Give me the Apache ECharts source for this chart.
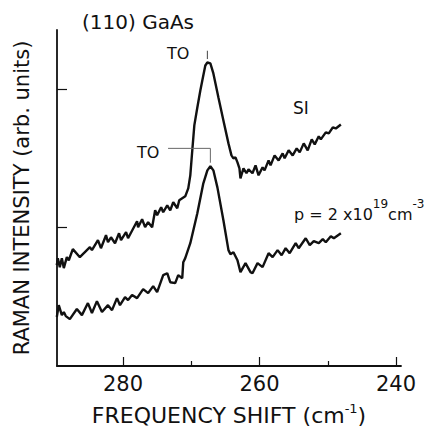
<!DOCTYPE html>
<html>
<head>
<meta charset="utf-8">
<script src="https://cdn.jsdelivr.net/npm/echarts@6/dist/echarts.min.js"></script>
<style>
  html, body { margin: 0; padding: 0; background: #fff; }
  #chart { width: 430px; height: 433px; }
</style>
</head>
<body>
<div id="chart"></div>
<script>
// semi-insulating sample (upper trace)
const siShift = [289.7, 289.55, 289.26, 288.96, 288.67, 288.23, 287.94, 287.35, 286.32, 284.85, 284.55, 283.67, 283.23, 282.49, 282.2, 281.76, 281.17, 280.58, 280.29, 279.55, 279.26, 277.94, 277.79, 277.2, 276.76, 276.32, 275.73, 275.29, 275.0, 274.41, 274.11, 273.52, 273.08, 272.64, 272.05, 271.76, 271.32, 270.88, 270.44, 270.14, 269.85, 269.55, 269.11, 268.67, 268.38, 267.94, 267.64, 267.2, 266.76, 266.02, 265.29, 264.55, 264.11, 263.82, 263.52, 263.23, 262.94, 262.79, 262.35, 261.91, 261.61, 261.03, 260.58, 260.14, 259.55, 259.26, 258.67, 258.38, 257.79, 257.2, 256.61, 256.32, 255.73, 255.14, 254.55, 254.11, 253.52, 252.94, 252.35, 251.91, 251.32, 251.02, 250.29, 249.85, 249.26, 248.82, 248.08]
const siIntensity = [0.729, 0.78, 0.715, 0.78, 0.708, 0.787, 0.765, 0.845, 0.787, 0.859, 0.838, 0.91, 0.852, 0.946, 0.895, 0.931, 0.888, 0.96, 0.91, 0.968, 0.924, 1.047, 1.004, 1.061, 1.004, 1.04, 1.004, 1.126, 1.09, 1.148, 1.112, 1.162, 1.126, 1.184, 1.141, 1.199, 1.213, 1.227, 1.285, 1.379, 1.56, 1.74, 1.87, 1.993, 2.065, 2.173, 2.195, 2.188, 2.116, 1.942, 1.776, 1.61, 1.523, 1.502, 1.509, 1.473, 1.43, 1.357, 1.43, 1.394, 1.422, 1.394, 1.451, 1.379, 1.437, 1.415, 1.487, 1.451, 1.523, 1.487, 1.538, 1.502, 1.56, 1.523, 1.574, 1.545, 1.61, 1.56, 1.639, 1.603, 1.661, 1.639, 1.69, 1.682, 1.726, 1.718, 1.747]

// p = 2x10^19 cm^-3 sample (lower trace)
const pShift = [289.7, 289.41, 288.96, 288.67, 288.38, 287.79, 286.76, 286.02, 285.14, 284.55, 283.82, 283.08, 282.2, 281.61, 280.88, 280.44, 279.7, 279.26, 278.67, 277.94, 277.05, 276.32, 275.58, 275.0, 274.11, 273.52, 273.08, 272.35, 271.91, 271.32, 271.17, 270.88, 270.14, 269.11, 268.23, 267.64, 267.2, 266.76, 266.17, 265.29, 264.55, 264.26, 263.82, 263.23, 262.79, 262.05, 261.32, 261.03, 260.29, 259.55, 258.67, 258.08, 257.35, 256.76, 256.17, 255.58, 254.7, 254.26, 253.23, 252.64, 252.05, 251.32, 250.73, 250.29, 249.55, 249.11, 248.08]
const pIntensity = [0.354, 0.44, 0.368, 0.39, 0.361, 0.339, 0.412, 0.368, 0.455, 0.383, 0.469, 0.39, 0.44, 0.404, 0.491, 0.44, 0.498, 0.477, 0.513, 0.491, 0.556, 0.527, 0.578, 0.534, 0.657, 0.671, 0.606, 0.599, 0.657, 0.635, 0.751, 0.78, 0.888, 1.105, 1.321, 1.415, 1.444, 1.415, 1.292, 1.054, 0.838, 0.809, 0.823, 0.765, 0.679, 0.744, 0.679, 0.671, 0.744, 0.715, 0.816, 0.787, 0.838, 0.801, 0.852, 0.816, 0.888, 0.852, 0.924, 0.874, 0.903, 0.888, 0.917, 0.895, 0.939, 0.924, 0.96]

const majorTicks = [240, 260, 280]
const minorTicks = [250, 270]
const yTicks = [1, 2]

// TO markers: upper tick above SI peak, leader to the lower peak
const toUpper = [[267.64, 2.28], [267.64, 2.22]]
const toLower = [[273.4, 1.574], [267.2, 1.574], [267.2, 1.47]]

const zip = (xs, ys) => xs.map((x, i) => [x, ys[i]])

const font = 'DejaVu Sans'
const ink = '#111'

const chart = echarts.init(document.getElementById('chart'), null, { renderer: 'svg' })

chart.setOption({
  animation: false,
  backgroundColor: '#fff',
  grid: { left: 57, top: 30, right: 29, bottom: 67 },
  xAxis: [
    {
      type: 'value',
      inverse: true,
      min: 239.27,
      max: 289.67,
      name: 'FREQUENCY SHIFT (cm{s|-1})',
      nameLocation: 'middle',
      nameGap: 36,
      nameTextStyle: {
        fontFamily: font,
        fontSize: 22,
        color: ink,
        lineHeight: 26,
        rich: { s: { fontFamily: font, fontSize: 13, color: ink, verticalAlign: 'top', lineHeight: 26 } },
      },
      axisLine: { lineStyle: { color: ink, width: 1.8 } },
      axisTick: { inside: true, length: 9, customValues: majorTicks, lineStyle: { color: ink, width: 1.2 } },
      axisLabel: { customValues: majorTicks, margin: 7, fontFamily: font, fontSize: 21, color: ink },
      splitLine: { show: false },
    },
    {
      type: 'value',
      inverse: true,
      min: 239.27,
      max: 289.67,
      position: 'bottom',
      axisLine: { show: false },
      axisTick: { inside: true, length: 5, customValues: minorTicks, lineStyle: { color: ink, width: 1.2 } },
      axisLabel: { show: false },
      splitLine: { show: false },
    },
  ],
  yAxis: {
    type: 'value',
    min: 0,
    max: 2.43,
    name: 'RAMAN INTENSITY (arb. units)',
    nameLocation: 'middle',
    nameRotate: 90,
    nameGap: 25,
    nameTextStyle: { fontFamily: font, fontSize: 21, color: ink },
    axisLine: { show: true, lineStyle: { color: ink, width: 1.8 } },
    axisTick: { show: true, inside: true, length: 10, customValues: yTicks, lineStyle: { color: ink, width: 1.2 } },
    axisLabel: { show: false },
    splitLine: { show: false },
  },
  series: [
    {
      name: 'SI',
      type: 'line',
      data: zip(siShift, siIntensity),
      showSymbol: false,
      lineStyle: { color: ink, width: 2.4 },
    },
    {
      name: 'p',
      type: 'line',
      data: zip(pShift, pIntensity),
      showSymbol: false,
      lineStyle: { color: ink, width: 2.4 },
    },
    {
      type: 'line',
      data: toUpper,
      showSymbol: false,
      lineStyle: { color: '#444', width: 1 },
    },
    {
      type: 'line',
      data: toLower,
      showSymbol: false,
      lineStyle: { color: '#666', width: 1 },
    },
  ],
  graphic: [
    { type: 'text', x: 82, y: 22, style: { text: '(110) GaAs', font: `20px "${font}"`, fill: ink, verticalAlign: 'middle' } },
    { type: 'text', x: 167, y: 53, style: { text: 'TO', font: `16px "${font}"`, fill: ink, verticalAlign: 'middle' } },
    { type: 'text', x: 137, y: 152, style: { text: 'TO', font: `16px "${font}"`, fill: ink, verticalAlign: 'middle' } },
    { type: 'text', x: 293, y: 108, style: { text: 'SI', font: `17px "${font}"`, fill: ink, verticalAlign: 'middle' } },
    {
      type: 'text',
      x: 294,
      y: 210,
      style: {
        text: '{n|p = 2 x10}{s|19}{n|cm}{s|-3}',
        verticalAlign: 'middle',
        rich: {
          n: { fontFamily: font, fontSize: 16, fill: ink, lineHeight: 24, verticalAlign: 'bottom' },
          s: { fontFamily: font, fontSize: 12, fill: ink, lineHeight: 24, verticalAlign: 'top' },
        },
      },
    },
  ],
})
</script>
</body>
</html>
